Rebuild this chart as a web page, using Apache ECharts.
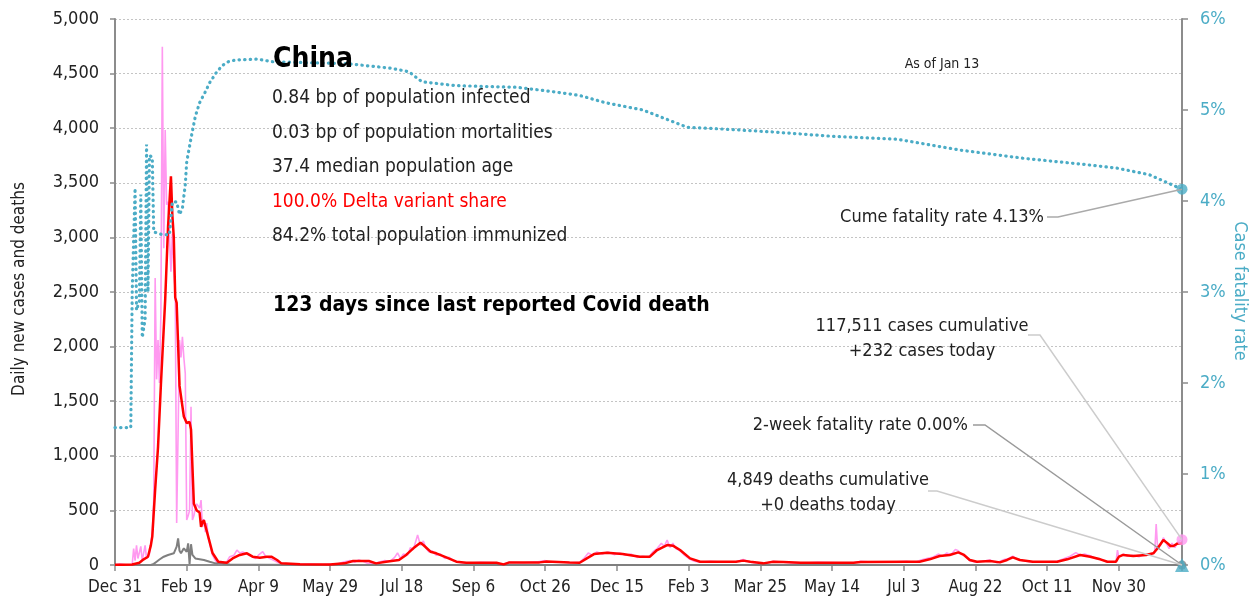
<!DOCTYPE html>
<html>
<head>
<meta charset="utf-8">
<script src="https://cdn.jsdelivr.net/npm/echarts@6/dist/echarts.min.js"></script>
<style>
  html, body { margin: 0; padding: 0; background: #fff; }
  #chart { width: 1260px; height: 607px; }
</style>
</head>
<body>
<div id="chart"></div>
<script>
// day index counted from Dec 31 2019
const startDate = Date.UTC(2019, 11, 31)
const lastDay = 744
const monthNames = ['Jan', 'Feb', 'Mar', 'Apr', 'May', 'Jun', 'Jul', 'Aug', 'Sep', 'Oct', 'Nov', 'Dec']

// daily new cases [day, cases]
const dailyCases = [
  [0, 0], [3, 10], [6, 5], [9, 0], [12, 5], [13, 150], [14, 40], [15, 180], [16, 60], [18, 170], [19, 40],
  [21, 180], [22, 60], [24, 100], [25, 110], [26, 300], [27, 595], [28, 2628], [29, 1700], [30, 2060],
  [31, 1667], [32, 2300], [33, 4746], [34, 2900], [35, 3984], [36, 3300], [37, 3327], [38, 3000], [39, 2686],
  [40, 3036], [41, 2700], [42, 2500], [43, 384], [44, 390], [45, 2060], [46, 1900], [47, 2090], [48, 1900],
  [49, 1755], [50, 412], [51, 450], [52, 500], [53, 1450], [54, 412], [55, 450], [56, 520], [57, 560],
  [58, 567], [59, 520], [60, 595], [61, 350], [62, 420], [63, 300], [64, 384], [65, 250], [66, 200], [67, 137],
  [68, 90], [70, 40], [72, 15], [75, 10], [78, 30], [80, 76], [83, 90], [85, 137], [87, 110], [89, 120],
  [92, 100], [95, 80], [98, 60], [100, 90], [103, 122], [105, 80], [108, 60], [111, 40], [114, 20], [118, 10],
  [125, 5], [135, 8], [145, 3], [155, 10], [160, 30], [164, 40], [167, 25], [170, 45], [173, 35], [176, 15],
  [180, 10], [185, 30], [188, 40], [192, 35], [195, 70], [197, 110], [199, 60], [201, 100], [204, 90],
  [206, 160], [208, 140], [210, 230], [211, 275], [213, 180], [215, 220], [217, 150], [219, 120], [221, 130],
  [224, 90], [227, 100], [230, 60], [233, 70], [236, 40], [240, 25], [245, 15], [255, 25], [265, 20], [270, 5],
  [275, 25], [285, 20], [295, 30], [300, 40], [303, 25], [310, 30], [317, 20], [324, 25], [327, 60], [330, 110],
  [333, 90], [336, 120], [340, 100], [344, 120], [348, 95], [352, 110], [356, 90], [360, 100], [364, 70],
  [368, 80], [372, 70], [375, 120], [378, 150], [381, 200], [383, 170], [385, 229], [387, 160], [389, 200],
  [391, 150], [394, 130], [397, 90], [400, 60], [404, 35], [408, 25], [415, 35], [425, 25], [433, 30],
  [438, 50], [443, 25], [452, 10], [459, 35], [466, 25], [478, 15], [490, 25], [505, 20], [515, 20], [520, 35],
  [530, 25], [545, 30], [552, 35], [558, 25], [562, 45], [566, 60], [570, 70], [574, 100], [577, 80],
  [580, 110], [583, 95], [586, 143], [588, 130], [590, 100], [593, 80], [596, 40], [600, 25], [605, 35],
  [610, 45], [615, 20], [620, 50], [623, 60], [626, 80], [629, 55], [633, 40], [640, 25], [650, 30], [657, 35],
  [662, 60], [666, 80], [670, 113], [673, 90], [676, 100], [680, 85], [684, 60], [688, 50], [692, 25],
  [695, 30], [698, 30], [699, 137], [700, 70], [703, 100], [706, 80], [710, 90], [714, 75], [718, 100],
  [722, 90], [725, 120], [726, 375], [727, 150], [729, 180], [731, 250], [733, 200], [735, 150], [737, 200],
  [739, 160], [741, 210], [744, 232]
]

// 7-day average of new cases [day, cases]
const avgCases = [
  [0, 2], [5, 3], [12, 5], [17, 20], [20, 52], [23, 76], [25, 180], [26, 260], [28, 690], [30, 1080],
  [32, 1650], [35, 2430], [37, 3100], [39, 3560], [40, 3200], [41, 3000], [42, 2450], [43, 2400], [45, 1640],
  [48, 1360], [50, 1300], [52, 1310], [53, 1240], [55, 560], [57, 500], [59, 480], [60, 350], [61, 390],
  [62, 410], [65, 260], [68, 110], [72, 30], [78, 20], [82, 60], [87, 92], [92, 107], [96, 76], [101, 67],
  [106, 76], [109, 76], [113, 46], [116, 15], [129, 6], [150, 5], [160, 15], [166, 37], [177, 37], [182, 15],
  [189, 30], [198, 46], [203, 92], [208, 153], [213, 204], [215, 183], [220, 122], [224, 107], [231, 70],
  [238, 30], [245, 21], [266, 21], [271, 6], [275, 24], [296, 24], [301, 32], [317, 24], [324, 21], [329, 61],
  [334, 100], [343, 113], [354, 100], [366, 76], [373, 76], [378, 137], [385, 183], [389, 177], [394, 137],
  [401, 61], [408, 30], [433, 30], [438, 40], [443, 30], [452, 15], [459, 30], [466, 28], [478, 21],
  [515, 21], [520, 28], [552, 30], [561, 30], [568, 52], [575, 82], [582, 92], [588, 116], [592, 92],
  [596, 46], [601, 30], [610, 37], [617, 24], [622, 46], [626, 70], [631, 46], [640, 30], [657, 30],
  [664, 52], [673, 92], [680, 76], [687, 52], [692, 30], [698, 30], [700, 76], [703, 92], [710, 82],
  [719, 92], [724, 107], [727, 153], [731, 229], [734, 198], [736, 174], [738, 174], [741, 198], [744, 198]
]

// daily deaths [day, deaths]
const dailyDeaths = [
  [0, 0], [25, 0], [27, 10], [29, 30], [31, 50], [34, 76], [37, 92], [41, 107], [43, 168], [44, 244],
  [45, 130], [46, 107], [48, 153], [50, 120], [51, 198], [52, 10], [53, 190], [54, 92], [56, 60], [57, 46],
  [62, 46], [66, 30], [70, 15], [80, 5], [100, 3], [150, 0], [744, 0]
]

// cumulative case fatality rate [day, %]
const cumeCfr = [
  [0, 1.51], [11, 1.51], [12, 3.0], [14, 4.14], [15, 2.8], [17, 2.9], [18, 4.07], [19, 2.5], [21, 2.7],
  [22, 4.62], [23, 3.0], [24, 4.5], [26, 4.48], [27, 3.66], [28, 3.65], [33, 3.63], [38, 3.63], [40, 3.99],
  [43, 3.99], [45, 3.85], [47, 3.92], [49, 4.18], [50, 4.43], [53, 4.69], [56, 4.93], [59, 5.08], [63, 5.2],
  [66, 5.3], [71, 5.42], [75, 5.49], [79, 5.53], [84, 5.55], [99, 5.56], [110, 5.53], [161, 5.51],
  [192, 5.46], [205, 5.42], [214, 5.31], [236, 5.27], [254, 5.26], [280, 5.25], [306, 5.2], [324, 5.16],
  [342, 5.08], [368, 5.0], [386, 4.89], [399, 4.81], [425, 4.79], [457, 4.76], [501, 4.71], [545, 4.68],
  [567, 4.62], [589, 4.56], [633, 4.47], [677, 4.4], [699, 4.36], [721, 4.29], [744, 4.13]
]

const casesToday = 232
const deathsToday = 0
const cfrToday = 4.13
const twoWeekCfr = 0

const statLines = [
  '0.84 bp of population infected',
  '0.03 bp of population mortalities',
  '37.4 median population age',
  '100.0% Delta variant share',
  '84.2% total population immunized'
]

const FONT = '"Liberation Sans Narrow", "DejaVu Sans Condensed", sans-serif'
const TEAL = '#4BACC6'
const AXIS_GRAY = '#8c8c8c'

function dayLabel(d) {
  const dt = new Date(startDate + d * 86400000)
  return monthNames[dt.getUTCMonth()] + ' ' + dt.getUTCDate()
}

const chart = echarts.init(document.getElementById('chart'))

function txt(text, x, y, size, opts = {}) {
  return {
    type: 'text',
    x, y,
    rotation: opts.rotation || 0,
    z: 100,
    style: {
      text,
      fontFamily: FONT,
      fontSize: size,
      fontWeight: opts.bold ? 'bold' : 'normal',
      fill: opts.color || '#222',
      textAlign: opts.align || 'left',
      textVerticalAlign: 'middle',
      verticalAlign: 'middle'
    }
  }
}

const texts = [
  txt('China', 273, 60, 28, { bold: true, color: '#000' }),
  ...statLines.map((s, i) => txt(s, 272, 98 + i * 34.6, 19, { color: i === 3 ? '#ff0000' : '#222' })),
  txt('123 days since last reported Covid death', 273, 306, 21, { bold: true, color: '#000' }),
  txt('As of Jan 13', 942, 64, 14, { align: 'center' }),
  txt('Cume fatality rate 4.13%', 1044, 217, 18, { align: 'right' }),
  txt('117,511 cases cumulative', 922, 326, 18, { align: 'center' }),
  txt('+232 cases today', 922, 351, 18, { align: 'center' }),
  txt('2-week fatality rate 0.00%', 968, 425, 18, { align: 'right' }),
  txt('4,849 deaths cumulative', 828, 480, 18, { align: 'center' }),
  txt('+0 deaths today', 828, 505, 18, { align: 'center' }),
  txt('Daily new cases and deaths', 20, 289, 17, { align: 'center', rotation: Math.PI / 2 }),
  txt('Case fatality rate', 1240, 291, 18, { align: 'center', rotation: -Math.PI / 2, color: TEAL })
]

const option = {
  animation: false,
  backgroundColor: '#fff',
  grid: { left: 115, right: 78, top: 19, bottom: 42 },
  xAxis: {
    type: 'value',
    min: 0,
    max: lastDay,
    interval: 50,
    showMaxLabel: false,
    axisLine: { lineStyle: { color: AXIS_GRAY, width: 2 } },
    axisTick: { show: true, length: 6, lineStyle: { color: AXIS_GRAY, width: 1.5 } },
    axisLabel: {
      color: '#222', fontFamily: FONT, fontSize: 17, margin: 14,
      formatter: v => (v % 50 === 0 ? dayLabel(v) : '')
    },
    splitLine: { show: false }
  },
  yAxis: [
    {
      type: 'value',
      min: 0,
      max: 5000,
      interval: 500,
      axisLine: { show: true, lineStyle: { color: AXIS_GRAY, width: 2 } },
      axisTick: { show: true, length: 5, lineStyle: { color: AXIS_GRAY, width: 1.5 } },
      axisLabel: {
        color: '#222', fontFamily: FONT, fontSize: 18, margin: 16,
        formatter: v => v.toLocaleString('en-US')
      },
      splitLine: { lineStyle: { color: '#c4c4c4', type: [2, 2], width: 1 } }
    },
    {
      type: 'value',
      min: 0,
      max: 6,
      interval: 1,
      position: 'right',
      axisLine: { show: true, lineStyle: { color: AXIS_GRAY, width: 2 } },
      axisTick: { show: true, length: 6, lineStyle: { color: AXIS_GRAY, width: 1.5 } },
      axisLabel: { color: TEAL, fontFamily: FONT, fontSize: 18, margin: 18, formatter: '{value}%' },
      splitLine: { show: false }
    }
  ],
  series: [
    {
      name: 'Daily cases',
      type: 'line',
      data: dailyCases,
      showSymbol: false,
      lineStyle: { color: '#ff99f0', width: 1.6 },
      z: 2
    },
    {
      name: 'Daily deaths',
      type: 'line',
      data: dailyDeaths,
      showSymbol: false,
      lineStyle: { color: '#7f7f7f', width: 2 },
      z: 3
    },
    {
      name: '7-day average',
      type: 'line',
      data: avgCases,
      showSymbol: false,
      lineStyle: { color: '#ff0000', width: 2.5 },
      z: 4
    },
    {
      name: 'Cume CFR',
      type: 'line',
      yAxisIndex: 1,
      data: cumeCfr,
      showSymbol: false,
      lineStyle: { color: TEAL, width: 3.2, type: [0.4, 5.2], cap: 'round' },
      z: 5
    },
    {
      type: 'scatter',
      data: [[lastDay, casesToday]],
      symbolSize: 11,
      itemStyle: { color: '#ff99f0' },
      clip: false,
      z: 6
    },
    {
      type: 'scatter',
      data: [[lastDay, deathsToday]],
      symbolSize: 9,
      itemStyle: { color: '#7f7f7f' },
      clip: false,
      z: 6
    },
    {
      type: 'scatter',
      yAxisIndex: 1,
      data: [[lastDay, cfrToday]],
      symbolSize: 11,
      itemStyle: { color: TEAL },
      clip: false,
      z: 7
    },
    {
      type: 'scatter',
      yAxisIndex: 1,
      data: [[lastDay, twoWeekCfr]],
      symbol: 'triangle',
      symbolSize: 14,
      itemStyle: { color: TEAL },
      clip: false,
      z: 7
    }
  ]
}

chart.setOption(option)

// leader lines from labels to the end points
const pCases = chart.convertToPixel({ xAxisIndex: 0, yAxisIndex: 0 }, [lastDay, casesToday])
const pDeaths = chart.convertToPixel({ xAxisIndex: 0, yAxisIndex: 0 }, [lastDay, deathsToday])
const pCfr = chart.convertToPixel({ xAxisIndex: 0, yAxisIndex: 1 }, [lastDay, cfrToday])
const pTwoWeek = chart.convertToPixel({ xAxisIndex: 0, yAxisIndex: 1 }, [lastDay, twoWeekCfr])

function leader(points, color) {
  return {
    type: 'polyline',
    z: 50,
    shape: { points },
    style: { stroke: color, lineWidth: 1.5, fill: null }
  }
}

chart.setOption({
  graphic: [
    leader([[1047, 217], [1058, 217], pCfr], '#aaaaaa'),
    leader([[1028, 335], [1040, 335], pCases], '#cccccc'),
    leader([[973, 425], [985, 425], pTwoWeek], '#9a9a9a'),
    leader([[928, 491], [937, 491], pDeaths], '#cccccc'),
    ...texts
  ]
})
</script>
</body>
</html>
